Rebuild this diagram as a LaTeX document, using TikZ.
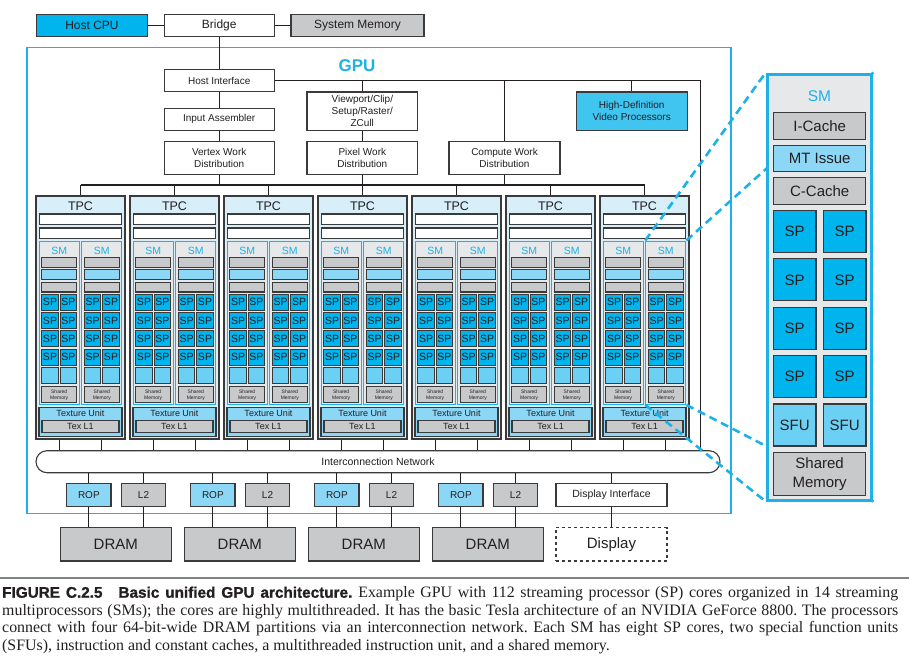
\documentclass[tikz,border=0pt]{standalone}
\usepackage{fontspec}
\setmainfont{Liberation Sans}
\newfontfamily\captionserif{Liberation Serif}
\newfontfamily\captionheavy{Liberation Sans Bold}[FakeBold=1.2]
\def\fsz#1#2{\fontsize{#1}{#2}\selectfont}

\definecolor{gpucyan}{HTML}{1DB1E7}
\definecolor{cpublue}{HTML}{00B4EE}
\definecolor{hdblue}{HTML}{40C5F0}
\definecolor{lightblue}{HTML}{8DD7F6}
\definecolor{sfublue}{HTML}{6CCFF4}
\definecolor{tpcfill}{HTML}{D8EFFA}
\definecolor{smgray}{HTML}{E7E8E9}
\definecolor{boxgray}{HTML}{C8C9CA}
\definecolor{outline}{HTML}{3A3A3A}
\definecolor{textdark}{HTML}{231F20}
\definecolor{rulegray}{HTML}{808285}

\tikzset{
  unit/.style={draw=outline, line width=1.1, inner sep=0, align=center, text=textdark},
  wbox/.style={unit, fill=white, font=\fsz{10}{12}},
  gbox/.style={unit, fill=boxgray},
  bbox/.style={unit, fill=lightblue},
  wire/.style={draw=textdark, line width=1.1},
  gpuframe/.style={draw=gpucyan, line width=1.4, inner sep=0},
  tpcbox/.style={unit, fill=tpcfill, minimum width=89, minimum height=243},
  smbox/.style={draw=gpucyan, line width=1.1, fill=smgray, inner sep=0, minimum width=40, minimum height=163.3},
  smlabel/.style={text=gpucyan, inner sep=0, font=\fsz{10.5}{12}},
  spsmall/.style={unit, fill=cpublue, minimum width=16.5, minimum height=16, font=\fsz{10.5}{12}},
  sfusmall/.style={unit, fill=sfublue, minimum width=16.5, minimum height=16},
  spbig/.style={unit, fill=cpublue, minimum width=42.7, minimum height=42, font=\fsz{15}{18}},
  sfubig/.style={unit, fill=sfublue, minimum width=42.7, minimum height=42, font=\fsz{15}{18}},
  panelbox/.style={draw=gpucyan, line width=3, fill=smgray, inner sep=0},
  zoomline/.style={draw=gpucyan, line width=2.6, dash pattern=on 8pt off 5pt},
  caption/.style={anchor=base west, inner sep=0, text=textdark},
}

\pgfdeclarelayer{front}
\pgfsetlayers{main,front}

\def\drawSM#1#2{ % #1 Name, #2 Center x
    \node[smbox] (sm-#1) at (#2,322.7) {};
    \node[smlabel] (smlabel-#1) at (#2,250.5) {SM};
    \node[gbox, minimum width=35, minimum height=9.6] (icache-#1) at (#2,262.5) {}; %icache
    \node[bbox, minimum width=35, minimum height=10] (issue-#1) at (#2,274.3) {}; %mt issue
    \node[gbox, minimum width=35, minimum height=9.6] (ccache-#1) at (#2,287.2) {}; %ccache
    \node[spsmall] (sp-#1-1) at (#2-9.2,302.3) {SP};
    \node[spsmall] (sp-#1-2) at (#2+9.2,302.3) {SP};
    \node[spsmall] (sp-#1-3) at (#2-9.2,320.6) {SP};
    \node[spsmall] (sp-#1-4) at (#2+9.2,320.6) {SP};
    \node[spsmall] (sp-#1-5) at (#2-9.2,338.9) {SP};
    \node[spsmall] (sp-#1-6) at (#2+9.2,338.9) {SP};
    \node[spsmall] (sp-#1-7) at (#2-9.2,357.2) {SP};
    \node[spsmall] (sp-#1-8) at (#2+9.2,357.2) {SP};
    \node[sfusmall] (sfu-#1-1) at (#2-9.2,375.7) {};
    \node[sfusmall] (sfu-#1-2) at (#2+9.2,375.7) {};
    \node[gbox, minimum width=35, minimum height=16, font=\fsz{5}{6}] (shmem-#1) at (#2,394.7) {Shared\\Memory};
}
\def\drawTPC#1#2{ % #1 Index, #2 Center x
    \node[tpcbox] (tpc-#1) at (#2,317.5) {};
    \node[inner sep=0, text=textdark, font=\fsz{12.5}{14}] (tpclabel-#1) at (#2,206) {TPC};
    \node[wbox, minimum width=82, minimum height=10.5] (bar-#1-1) at (#2,219.2) {};
    \node[wbox, minimum width=82, minimum height=10.5] (bar-#1-2) at (#2,233.2) {};
    \drawSM{#1-1}{#2-21.3}
    \drawSM{#1-2}{#2+21.3}
    \node[bbox, minimum width=83, minimum height=28.3] (tex-#1) at (#2,421.9) {};
    \node[inner sep=0, text=textdark, font=\fsz{9}{10}] (texlabel-#1) at (#2,413.7) {Texture Unit};
    \node[gbox, minimum width=77, minimum height=12.7, font=\fsz{9}{10}] (texl1-#1) at (#2,426.4) {Tex L1};
    \draw[wire] (tpc-#1) -- (tpc-#1 |- bus);
    \draw[wire] (sm-#1-1.south |- tpc-#1.south) -- (sm-#1-1.south |- net.north);
    \draw[wire] (sm-#1-2.south |- tpc-#1.south) -- (sm-#1-2.south |- net.north);
}
\def\drawPart#1#2{ % #1 Index, #2 Center x of ROP
    \node[bbox, minimum width=44.3, minimum height=22.7, font=\fsz{10}{12}] (rop-#1) at (#2,494.7) {ROP};
    \node[gbox, minimum width=44.3, minimum height=22.7, font=\fsz{10}{12}] (ltwo-#1) at (#2+54.65,494.7) {L2};
    \node[gbox, minimum width=111, minimum height=33.3, font=\fsz{15}{18}] (dram-#1) at (#2+26.95,544.3) {DRAM};
    \draw[wire] (rop-#1) -- (rop-#1 |- net.south);
    \draw[wire] (ltwo-#1) -- (ltwo-#1 |- net.south);
    \draw[wire] (rop-#1) -- (rop-#1 |- dram-#1.north);
    \draw[wire] (ltwo-#1) -- (ltwo-#1 |- dram-#1.north);
}

\begin{document}
\begin{tikzpicture}[x=1pt,y=-1pt]
    \useasboundingbox (0,0) rectangle (909,667);

    % host side
    \node[gpuframe, minimum width=704, minimum height=466] (gpu) at (379,280.3) {};
    \node[inner sep=0, text=gpucyan, font=\fsz{17}{20}\bfseries] (gpulabel) at (357,66) {GPU};
    \node[unit, fill=cpublue, minimum width=110.5, minimum height=22.5, font=\fsz{12}{14}] (hostcpu) at (92,25.5) {Host CPU};
    \node[wbox, minimum width=110.3, minimum height=22.5, font=\fsz{12}{14}] (bridge) at (219.2,25.5) {Bridge};
    \node[gbox, minimum width=133, minimum height=22.5, font=\fsz{12}{14}] (sysmem) at (357.5,25.5) {System Memory};
    \draw[wire] (hostcpu) -- (bridge);
    \draw[wire] (bridge) -- (sysmem);

    % front end
    \node[wbox, minimum width=110, minimum height=22.5] (hostif) at (219.2,80.5) {Host Interface};
    \node[wbox, minimum width=110, minimum height=22] (inputasm) at (219.2,119.3) {Input Assembler};
    \node[wbox, minimum width=110, minimum height=33.4] (vwd) at (219.2,158) {Vertex Work\\Distribution};
    \node[wbox, minimum width=110.7, minimum height=38.7] (viewport) at (362.3,111.3) {Viewport/Clip/\\Setup/Raster/\\ZCull};
    \node[wbox, minimum width=110.7, minimum height=33.4] (pwd) at (362.3,158) {Pixel Work\\Distribution};
    \node[wbox, minimum width=111, minimum height=33.4] (cwd) at (504.5,158) {Compute Work\\Distribution};
    \node[unit, fill=hdblue, minimum width=110.7, minimum height=38.7, font=\fsz{10}{12}] (hdvideo) at (631.7,111.3) {High-Definition\\Video Processors};
    \node[unit, fill=white, rounded corners=11, minimum width=684, minimum height=22, font=\fsz{10.5}{12}] (net) at (378,461.7) {Interconnection Network};
    \coordinate (bus) at (0,185);
    \coordinate (hiturn) at (700.5,80.5);
    \draw[wire] (bridge) -- (hostif);
    \draw[wire] (hostif) -- (inputasm);
    \draw[wire] (inputasm) -- (vwd);
    \draw[wire] (viewport) -- (pwd);
    \draw[wire] (hostif.east) -- (hiturn) -- (hiturn |- net.north);
    \draw[wire] (viewport) -- (viewport |- hiturn);
    \draw[wire] (cwd) -- (cwd |- hiturn);
    \draw[wire] (hdvideo) -- (hdvideo |- hiturn);
    \draw[wire] (vwd) -- (vwd |- bus);
    \draw[wire] (pwd) -- (pwd |- bus);
    \draw[wire] (cwd) -- (cwd |- bus);

    % --------------------------------------------------

    \drawTPC{1}{80.5}
    \drawTPC{2}{174.5}
    \drawTPC{3}{268.5}
    \drawTPC{4}{362.5}
    \drawTPC{5}{456.5}
    \drawTPC{6}{550.5}
    \drawTPC{7}{644.5}
    \draw[wire] (tpc-1 |- bus) -- (tpc-7 |- bus);

    % --------------------------------------------------

    \drawPart{1}{88.85}
    \drawPart{2}{212.85}
    \drawPart{3}{336.85}
    \drawPart{4}{460.85}
    \node[wbox, minimum width=111, minimum height=22.7, font=\fsz{10.5}{12}] (dispif) at (611.5,494.7) {Display Interface};
    \node[unit, dash pattern=on 3pt off 3pt, fill=white, minimum width=111, minimum height=33.3, font=\fsz{15}{18}] (display) at (611.5,544.3) {Display};
    \draw[wire] (dispif) -- (dispif |- net.south);
    \draw[wire] (dispif) -- (display);

    % --------------------------------------------------

    \begin{pgfonlayer}{front}
        \node[panelbox, minimum width=104.7, minimum height=426] (panel) at (819.6,287) {};
        \node[smlabel, font=\fsz{15.5}{18}] (panellabel) at (819.5,96) {SM};
        \node[gbox, minimum width=92, minimum height=26.5, font=\fsz{15}{18}] (icache) at (819.7,126) {I-Cache};
        \node[bbox, minimum width=92, minimum height=26.5, font=\fsz{15}{18}] (mtissue) at (819.7,158.5) {MT Issue};
        \node[gbox, minimum width=92, minimum height=26.5, font=\fsz{15}{18}] (ccache) at (819.7,191) {C-Cache};
        \node[spbig] (spbig-1) at (794.6,231.7) {SP};
        \node[spbig] (spbig-2) at (844.6,231.7) {SP};
        \node[spbig] (spbig-3) at (794.6,279.9) {SP};
        \node[spbig] (spbig-4) at (844.6,279.9) {SP};
        \node[spbig] (spbig-5) at (794.6,328.1) {SP};
        \node[spbig] (spbig-6) at (844.6,328.1) {SP};
        \node[spbig] (spbig-7) at (794.6,376.5) {SP};
        \node[spbig] (spbig-8) at (844.6,376.5) {SP};
        \node[sfubig] (sfubig-1) at (794.6,425) {SFU};
        \node[sfubig] (sfubig-2) at (844.6,425) {SFU};
        \node[gbox, minimum width=92, minimum height=42.7, font=\fsz{15}{19}] (bigshmem) at (819.6,473.7) {Shared\\Memory};
    \end{pgfonlayer}
    \draw[zoomline] (sm-7-2.north west) -- (panel.north west);
    \draw[zoomline] (sm-7-2.north east) -- (panel.north east);
    \draw[zoomline] (sm-7-2.south west) -- (panel.south west);
    \draw[zoomline] (sm-7-2.south east) -- (panel.south east);

    % --------------------------------------------------

    \draw[draw=rulegray, line width=1.5] (0,578) -- (909,578);
    \node[caption] (cap-1) at (2,597.7) {\frenchspacing\makebox[896pt][s]{\captionheavy\fsz{15.3}{18}FIGURE C.2.5\hspace{16pt}Basic unified GPU architecture.\ \captionserif\fsz{15.9}{18}Example GPU with 112 streaming processor (SP) cores organized in 14 streaming}};
    \node[caption] (cap-2) at (2,615.2) {\frenchspacing\makebox[896pt][s]{\captionserif\fsz{15.9}{18}multiprocessors (SMs); the cores are highly multithreaded. It has the basic Tesla architecture of an NVIDIA GeForce 8800. The processors}};
    \node[caption] (cap-3) at (2,632.6) {\frenchspacing\makebox[896pt][s]{\captionserif\fsz{15.9}{18}connect with four 64-bit-wide DRAM partitions via an interconnection network. Each SM has eight SP cores, two special function units}};
    \node[caption] (cap-4) at (2,650) {\frenchspacing\captionserif\fsz{15.9}{18}(SFUs), instruction and constant caches, a multithreaded instruction unit, and a shared memory.};
\end{tikzpicture}
\end{document}
